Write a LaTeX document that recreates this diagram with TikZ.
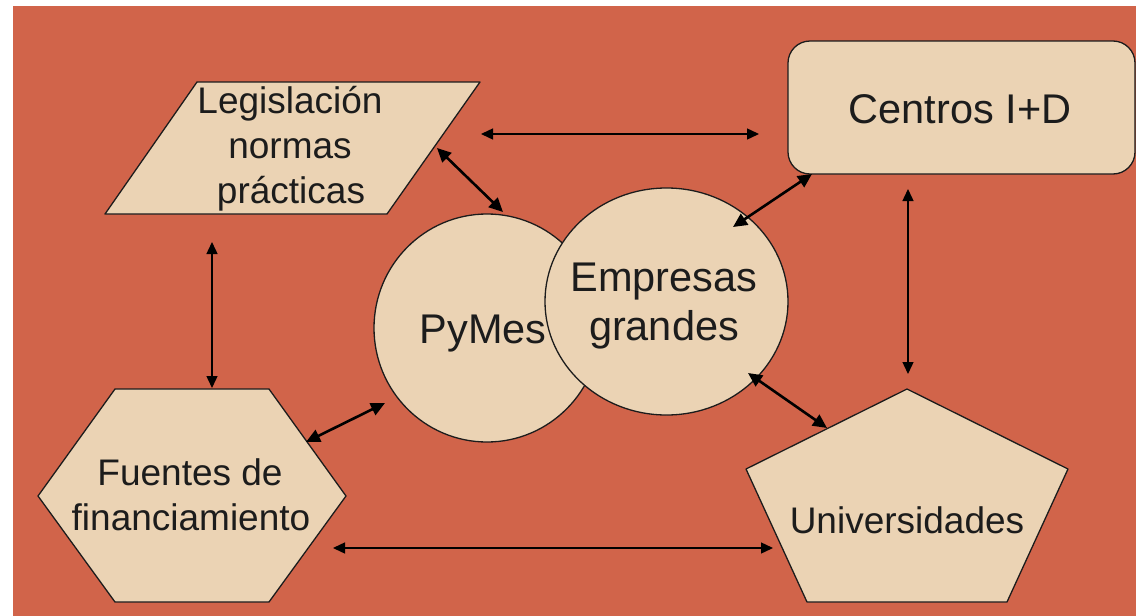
\documentclass[tikz,border=0pt]{standalone}
\usepackage{fontspec}
\setmainfont{Liberation Sans}
\usetikzlibrary{arrows.meta}
\definecolor{bgc}{RGB}{209,100,74}
\definecolor{fillc}{RGB}{235,211,180}
\definecolor{ink}{RGB}{28,28,28}
\begin{document}
\begin{tikzpicture}[x=1pt,y=-1pt,
  shapebox/.style={fill=fillc,draw=ink,line width=1.3pt,line join=round},
  txt/.style={anchor=base,inner sep=0pt,text=ink,font=\fontsize{37}{44}\selectfont},
  bigtxt/.style={anchor=base,inner sep=0pt,text=ink,font=\fontsize{41.5}{50}\selectfont},
  link/.style={{Triangle[length=12pt,width=11pt]}-{Triangle[length=12pt,width=11pt]},line width=1.4pt,draw=black},
  boldlink/.style={{Triangle[length=14pt,width=13pt]}-{Triangle[length=14pt,width=13pt]},line width=2.6pt,draw=black}]
\useasboundingbox (0,0) rectangle (1136,616);
\fill[white] (0,0) rectangle (1136,616);
\fill[bgc] (13,6) rectangle (1136,616);
% shapes
\draw[shapebox] (197,82) -- (480,82) -- (387,214) -- (105,214) -- cycle;
\draw[shapebox,rounded corners=22pt] (788,41) rectangle (1135,174);
\draw[shapebox] (115,389) -- (269,389) -- (346,496) -- (269,602) -- (115,602) -- (38,496) -- cycle;
\draw[shapebox] (907,389) -- (1068,469) -- (1007,602) -- (807,602) -- (746,469) -- cycle;
\draw[shapebox] (487,328) ellipse [x radius=113, y radius=114];
\draw[shapebox] (666.5,301.5) ellipse [x radius=121.5, y radius=113.5];
% texts
\node[txt] (legA) at (290,113) {Legislación};
\node[txt] (legB) at (290,158) {normas};
\node[txt] (legC) at (291,203) {prácticas};
\node[bigtxt] (centros) at (960,123) {Centros I+D};
\node[bigtxt] (pymes) at (483,343) {PyMes};
\node[bigtxt] (empA) at (664,291) {Empresas};
\node[bigtxt] (empB) at (664,340.5) {grandes};
\node[txt] (fuenA) at (190,485) {Fuentes de};
\node[txt] (fuenB) at (191,530) {financiamiento};
\node[txt] (univ) at (907,533) {Universidades};
% connector ends
\coordinate (legR) at (481,134);
\coordinate (cenL) at (759,134);
\coordinate (legD) at (437,148);
\coordinate (pymU) at (503,212);
\coordinate (cenD) at (812,174);
\coordinate (empU) at (733,227);
\coordinate (fueU) at (306,442);
\coordinate (pymL) at (385,403);
\coordinate (empD) at (748,373);
\coordinate (uniU) at (827,428);
\coordinate (legB2) at (212,242);
\coordinate (fueT) at (212,388);
\coordinate (cenB) at (908,189);
\coordinate (uniT) at (908,374);
\coordinate (fueR) at (333,548);
\coordinate (uniL) at (773,548);
% connectors
\draw[link] (legR) -- (cenL);
\draw[boldlink] (legD) -- (pymU);
\draw[boldlink] (empU) -- (cenD);
\draw[boldlink] (fueU) -- (pymL);
\draw[boldlink] (empD) -- (uniU);
\draw[link] (legB2) -- (fueT);
\draw[link] (cenB) -- (uniT);
\draw[link] (fueR) -- (uniL);
\end{tikzpicture}
\end{document}
